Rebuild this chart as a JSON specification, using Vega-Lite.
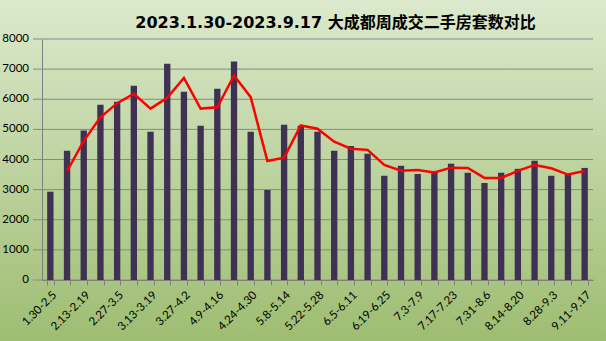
{
  "$schema": "https://vega.github.io/schema/vega-lite/v6.json",
  "width": 551,
  "height": 241,
  "autosize": {"type": "none"},
  "padding": {"left": 42, "top": 39, "right": 13, "bottom": 61},
  "background": "#bcd39e",
  "config": {
    "view": {"stroke": null},
    "axis": {"grid": false, "title": null, "labelFont": "Lato", "labelFontSize": 11.5, "labelColor": "#000000", "domain": true, "ticks": true, "domainColor": "#7f7f7f", "tickColor": "#7f7f7f", "domainWidth": 1, "tickWidth": 1, "labelOverlap": false},
    "axisY": {"labels": false, "ticks": false}
  },
  "title": {
    "text": "2023.1.30-2023.9.17 大成都周成交二手房套数对比",
    "font": "DejaVu Sans, Noto Sans CJK SC",
    "fontSize": 16,
    "fontWeight": "bold",
    "color": "#000000",
    "anchor": "middle",
    "frame": "group",
    "baseline": "alphabetic",
    "offset": -44,
    "dx": 18
  },
  "datasets": {
    "weeks": [
      {"week": "1.30-2.5", "count": 2930, "avg": null},
      {"week": "2.6-2.12", "count": 4290, "avg": 3610},
      {"week": "2.13-2.19", "count": 4960, "avg": 4620},
      {"week": "2.20-2.26", "count": 5820, "avg": 5400},
      {"week": "2.27-3.5", "count": 5920, "avg": 5870},
      {"week": "3.6-3.12", "count": 6450, "avg": 6180},
      {"week": "3.13-3.19", "count": 4920, "avg": 5690},
      {"week": "3.20-3.26", "count": 7180, "avg": 6050},
      {"week": "3.27-4.2", "count": 6250, "avg": 6710},
      {"week": "4.3-4.8", "count": 5120, "avg": 5690},
      {"week": "4.9-4.16", "count": 6350, "avg": 5735},
      {"week": "4.17-4.23", "count": 7250, "avg": 6790},
      {"week": "4.24-4.30", "count": 4920, "avg": 6070},
      {"week": "5.1-5.7", "count": 2990, "avg": 3950},
      {"week": "5.8-5.14", "count": 5150, "avg": 4060},
      {"week": "5.15-5.21", "count": 5120, "avg": 5130},
      {"week": "5.22-5.28", "count": 4920, "avg": 5020},
      {"week": "5.29-6.4", "count": 4290, "avg": 4590},
      {"week": "6.5-6.11", "count": 4450, "avg": 4360},
      {"week": "6.12-6.18", "count": 4190, "avg": 4320},
      {"week": "6.19-6.25", "count": 3460, "avg": 3820},
      {"week": "6.26-7.2", "count": 3790, "avg": 3630},
      {"week": "7.3-7.9", "count": 3520, "avg": 3650},
      {"week": "7.10-7.16", "count": 3600, "avg": 3570},
      {"week": "7.17-7.23", "count": 3860, "avg": 3730},
      {"week": "7.24-7.30", "count": 3560, "avg": 3720},
      {"week": "7.31-8.6", "count": 3220, "avg": 3390},
      {"week": "8.7-8.13", "count": 3560, "avg": 3390},
      {"week": "8.14-8.20", "count": 3690, "avg": 3620},
      {"week": "8.21-8.27", "count": 3960, "avg": 3820},
      {"week": "8.28-9.3", "count": 3460, "avg": 3710},
      {"week": "9.4-9.10", "count": 3530, "avg": 3500},
      {"week": "9.11-9.17", "count": 3720, "avg": 3620}
    ],
    "grid": [
      {"g": 0}, {"g": 1000}, {"g": 2000}, {"g": 3000}, {"g": 4000},
      {"g": 5000}, {"g": 6000}, {"g": 7000}, {"g": 8000}
    ],
    "bg": [{"name": "background"}]
  },
  "resolve": {"scale": {"x": "independent"}},
  "layer": [
    {
      "data": {"name": "bg"},
      "mark": {
        "type": "rect",
        "stroke": null,
        "zindex": 0,
        "fill": {
          "gradient": "linear", "x1": 0, "y1": 0, "x2": 0, "y2": 1,
          "stops": [
            {"offset": 0, "color": "#dce9cd"},
            {"offset": 1, "color": "#9ebd71"}
          ]
        }
      },
      "encoding": {
        "x": {"datum": -0.0763, "type": "quantitative", "scale": {"domain": [0, 1]}, "axis": null},
        "x2": {"datum": 1.0237},
        "y": {"datum": 9294.6, "type": "quantitative", "scale": {"domain": [0, 8000], "nice": false}, "axis": {"zindex": 3, "labels": false, "ticks": false}},
        "y2": {"datum": -2024.9}
      }
    },
    {
      "data": {"name": "grid"},
      "mark": {"type": "rule", "color": "#888888", "strokeWidth": 1, "zindex": 1},
      "encoding": {
        "x": {"datum": -0.0163, "type": "quantitative", "scale": {"domain": [0, 1]}, "axis": null},
        "x2": {"datum": 1},
        "y": {"field": "g", "type": "quantitative", "scale": {"domain": [0, 8000], "nice": false}, "axis": {"zindex": 3, "labels": false, "ticks": false}}
      }
    },
    {
      "data": {"name": "grid"},
      "mark": {"type": "text", "align": "right", "baseline": "middle", "dx": -13, "font": "Lato", "fontSize": 11.5, "color": "#000000", "zindex": 3},
      "encoding": {
        "x": {"datum": 0, "type": "quantitative", "scale": {"domain": [0, 1]}, "axis": null},
        "y": {"field": "g", "type": "quantitative", "scale": {"domain": [0, 8000], "nice": false}, "axis": {"zindex": 3, "labels": false, "ticks": false}},
        "text": {"field": "g", "type": "quantitative", "format": "d"}
      }
    },
    {
      "data": {"name": "weeks"},
      "layer": [
        {
          "mark": {"type": "bar", "color": "#3f3153", "zindex": 2},
          "encoding": {
            "x": {
              "field": "week", "type": "nominal", "sort": null,
              "scale": {"paddingInner": 0.62, "paddingOuter": 0.31},
              "axis": {
                "zindex": 3,
                "tickBand": "extent",
                "tickSize": 5,
                "labelAngle": -45,
                "labelPadding": 4,
                "labelOverlap": false,
                "labelExpr": "indexof(['1.30-2.5','2.13-2.19','2.27-3.5','3.13-3.19','3.27-4.2','4.9-4.16','4.24-4.30','5.8-5.14','5.22-5.28','6.5-6.11','6.19-6.25','7.3-7.9','7.17-7.23','7.31-8.6','8.14-8.20','8.28-9.3','9.11-9.17'], datum.value) >= 0 ? datum.label : ''"
              }
            },
            "y": {
              "field": "count", "type": "quantitative",
              "scale": {"domain": [0, 8000], "nice": false},
              "axis": {"zindex": 3, "labels": false, "ticks": false}
            }
          }
        },
        {
          "mark": {"type": "line", "color": "#ff0000", "strokeWidth": 2.5, "zindex": 2},
          "encoding": {
            "x": {"field": "week", "type": "nominal", "sort": null},
            "y": {"field": "avg", "type": "quantitative"}
          }
        }
      ]
    }
  ]
}
